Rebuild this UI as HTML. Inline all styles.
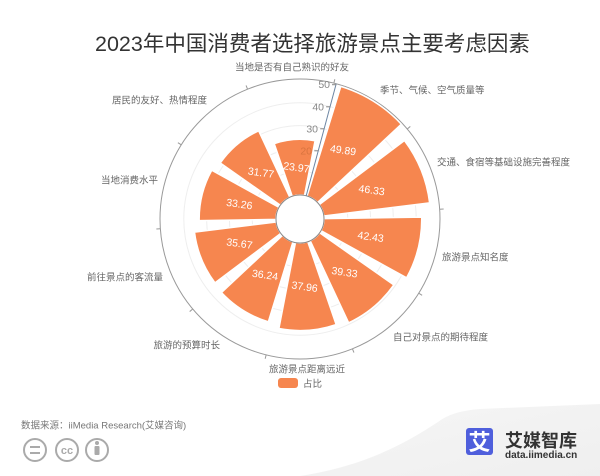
<!DOCTYPE html>
<html><head><meta charset="utf-8"><style>
html,body{margin:0;padding:0;background:#fff;}
svg{display:block;}
text{font-family:"Liberation Sans","Noto Sans CJK SC",sans-serif;}
</style></head><body>
<svg width="600" height="476" viewBox="0 0 600 476" xmlns="http://www.w3.org/2000/svg">
<rect width="600" height="476" fill="#fff"/>
<defs>
<linearGradient id="sw" x1="0" y1="0" x2="1" y2="1">
<stop offset="0" stop-color="#f6f6f6"/><stop offset="1" stop-color="#efefef"/>
</linearGradient>
</defs>
<path d="M300 476 C 370 465, 410 440, 438 422 Q 452 411, 480 409 L 600 404 L 600 476 Z" fill="url(#sw)"/>

<text x="95" y="51" font-size="21.5" fill="#333">2023年中国消费者选择旅游景点主要考虑因素</text>

<!-- split circles -->
<g fill="none" stroke="#eeeeee" stroke-width="1">
<circle cx="300" cy="219" r="47.8"/><circle cx="300" cy="219" r="70.6"/>
<circle cx="300" cy="219" r="93.4"/><circle cx="300" cy="219" r="116.2"/>
</g>
<circle cx="300" cy="219" r="140" fill="none" stroke="#999" stroke-width="1"/>
<g stroke="#999" stroke-width="1" transform="translate(300,219)">
<line x1="140" y1="0" x2="144" y2="0" transform="rotate(-76)"/>
<line x1="140" y1="0" x2="144" y2="0" transform="rotate(-40)"/>
<line x1="140" y1="0" x2="144" y2="0" transform="rotate(-4)"/>
<line x1="140" y1="0" x2="144" y2="0" transform="rotate(32)"/>
<line x1="140" y1="0" x2="144" y2="0" transform="rotate(68)"/>
<line x1="140" y1="0" x2="144" y2="0" transform="rotate(104)"/>
<line x1="140" y1="0" x2="144" y2="0" transform="rotate(140)"/>
<line x1="140" y1="0" x2="144" y2="0" transform="rotate(176)"/>
<line x1="140" y1="0" x2="144" y2="0" transform="rotate(212)"/>
<line x1="140" y1="0" x2="144" y2="0" transform="rotate(248)"/>
</g>

<!-- bars -->
<g fill="#F6864F" stroke="#fff" stroke-width="1.5">
<path transform="translate(300,219) rotate(-94)" d="M23.19 -6.17 L76.97 -20.48 A79.65 79.65 0 0 1 76.97 20.48 L23.19 6.17 A24 24 0 0 0 23.19 -6.17 Z"/>
<path transform="translate(300,219) rotate(-58)" d="M23.19 -6.17 L134.09 -35.68 A138.75 138.75 0 0 1 134.09 35.68 L23.19 6.17 A24 24 0 0 0 23.19 -6.17 Z"/>
<path transform="translate(300,219) rotate(-22)" d="M23.19 -6.17 L126.24 -33.59 A130.63 130.63 0 0 1 126.24 33.59 L23.19 6.17 A24 24 0 0 0 23.19 -6.17 Z"/>
<path transform="translate(300,219) rotate(14)" d="M23.19 -6.17 L117.65 -31.30 A121.74 121.74 0 0 1 117.65 31.30 L23.19 6.17 A24 24 0 0 0 23.19 -6.17 Z"/>
<path transform="translate(300,219) rotate(50)" d="M23.19 -6.17 L110.81 -29.48 A114.67 114.67 0 0 1 110.81 29.48 L23.19 6.17 A24 24 0 0 0 23.19 -6.17 Z"/>
<path transform="translate(300,219) rotate(86)" d="M23.19 -6.17 L107.80 -28.68 A111.55 111.55 0 0 1 107.80 28.68 L23.19 6.17 A24 24 0 0 0 23.19 -6.17 Z"/>
<path transform="translate(300,219) rotate(122)" d="M23.19 -6.17 L104.01 -27.67 A107.63 107.63 0 0 1 104.01 27.67 L23.19 6.17 A24 24 0 0 0 23.19 -6.17 Z"/>
<path transform="translate(300,219) rotate(158)" d="M23.19 -6.17 L102.76 -27.34 A106.33 106.33 0 0 1 102.76 27.34 L23.19 6.17 A24 24 0 0 0 23.19 -6.17 Z"/>
<path transform="translate(300,219) rotate(194)" d="M23.19 -6.17 L97.44 -25.93 A100.83 100.83 0 0 1 97.44 25.93 L23.19 6.17 A24 24 0 0 0 23.19 -6.17 Z"/>
<path transform="translate(300,219) rotate(230)" d="M23.19 -6.17 L94.16 -25.05 A97.44 97.44 0 0 1 94.16 25.05 L23.19 6.17 A24 24 0 0 0 23.19 -6.17 Z"/>
</g>

<!-- hole -->
<circle cx="300" cy="219" r="24" fill="#fff" stroke="#888" stroke-width="1"/>

<!-- radius axis -->
<line x1="306.2" y1="195.8" x2="336.2" y2="83.8" stroke="#6d86a3" stroke-width="1"/>
<g stroke="#888" stroke-width="1">
<line x1="314.3" y1="150.8" x2="318.3" y2="150.8"/>
<line x1="320.2" y1="128.8" x2="324.2" y2="128.8"/>
<line x1="326.1" y1="106.8" x2="330.1" y2="106.8"/>
<line x1="332.0" y1="84.7" x2="336.0" y2="84.7"/>
</g>
<g font-size="10.5" fill="#888" text-anchor="end">
<text x="312" y="154.3" fill="#d9743f">20</text>
<text x="318" y="132.3">30</text>
<text x="324" y="110.3">40</text>
<text x="330" y="88.2">50</text>
</g>

<!-- value labels -->
<g font-size="10.5" fill="#fff" text-anchor="middle">
<text x="296.4" y="171" transform="rotate(8 296.4 167.3)">23.97</text>
<text x="343.1" y="153.7" transform="rotate(8 343.1 150)">49.89</text>
<text x="371.7" y="193.7" transform="rotate(8 371.7 190)">46.33</text>
<text x="370.7" y="240.3" transform="rotate(8 370.7 236.6)">42.43</text>
<text x="344.6" y="275.8" transform="rotate(8 344.6 272.1)">39.33</text>
<text x="304.7" y="290.3" transform="rotate(8 304.7 286.6)">37.96</text>
<text x="265.1" y="278.5" transform="rotate(8 265.1 274.8)">36.24</text>
<text x="239.5" y="247.1" transform="rotate(8 239.5 243.4)">35.67</text>
<text x="239.4" y="207.6" transform="rotate(8 239.4 203.9)">33.26</text>
<text x="261.0" y="176.2" transform="rotate(8 261 172.5)">31.77</text>
</g>

<!-- category labels -->
<g font-size="9.5" fill="#666">
<text x="292" y="70.5" text-anchor="middle">当地是否有自己熟识的好友</text>
<text x="380" y="93.5">季节、气候、空气质量等</text>
<text x="437" y="165.5">交通、食宿等基础设施完善程度</text>
<text x="442" y="260.5">旅游景点知名度</text>
<text x="393" y="340.5">自己对景点的期待程度</text>
<text x="307" y="372.5" text-anchor="middle">旅游景点距离远近</text>
<text x="220" y="348.5" text-anchor="end">旅游的预算时长</text>
<text x="163" y="280.5" text-anchor="end">前往景点的客流量</text>
<text x="158" y="183.5" text-anchor="end">当地消费水平</text>
<text x="207" y="103.5" text-anchor="end">居民的友好、热情程度</text>
</g>

<!-- legend -->
<rect x="278" y="378" width="20" height="10" rx="3" fill="#F6864F"/>
<text x="303" y="387" font-size="9.5" fill="#666">占比</text>

<!-- source -->
<text x="21" y="428.5" font-size="9.5" fill="#777">数据来源：iiMedia Research(艾媒咨询)</text>
<g fill="none" stroke="#aaa" stroke-width="2">
<circle cx="35" cy="450" r="11"/>
<circle cx="67" cy="450" r="11"/>
<circle cx="97" cy="450" r="11"/>
<line x1="30" y1="447" x2="40" y2="447"/>
<line x1="30" y1="453" x2="40" y2="453"/>
</g>
<text x="67" y="454" font-size="11" font-weight="bold" fill="#aaa" text-anchor="middle">cc</text>
<circle cx="97" cy="443" r="2" fill="#aaa"/>
<rect x="94.5" y="446" width="5" height="9" rx="1" fill="#aaa"/>

<!-- logo -->
<rect x="466" y="428" width="27" height="27" rx="3" fill="#4f5fdc"/>
<text x="479.5" y="450" font-size="22" font-weight="bold" fill="#fff" text-anchor="middle">艾</text>
<text x="505" y="447" font-size="18" font-weight="bold" fill="#333">艾媒智库</text>
<text x="505" y="458" font-size="10" font-weight="bold" fill="#333">data.iimedia.cn</text>
</svg>
</body></html>
